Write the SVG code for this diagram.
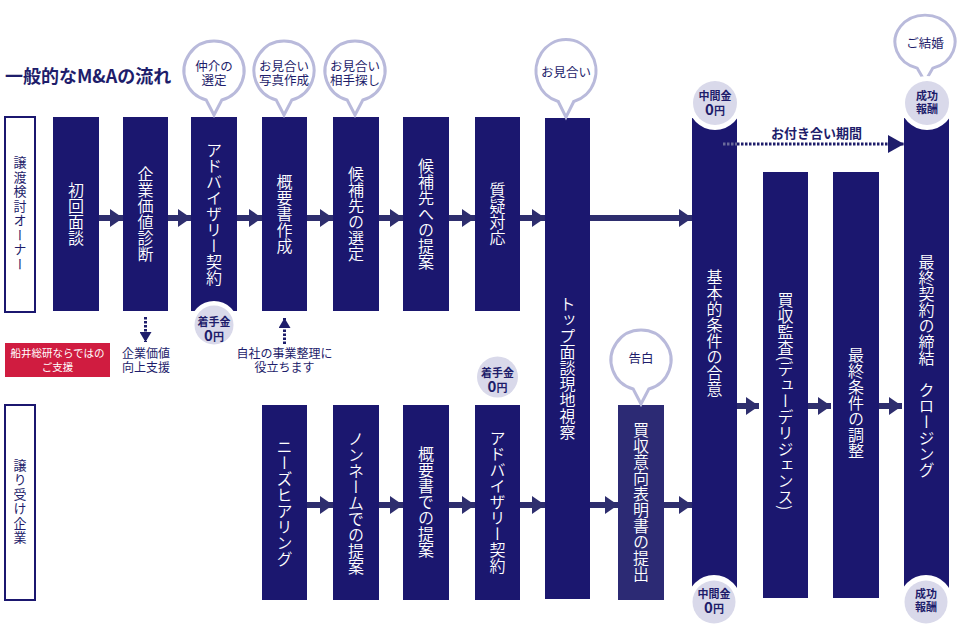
<svg xmlns="http://www.w3.org/2000/svg" width="960" height="635" viewBox="0 0 960 635">
<defs>
<style>
.box{fill:#1b176f}
.box2{fill:#2c2a74}
.vt{font-family:"Noto Sans CJK JP","Noto Sans CJK SC",sans-serif;font-size:16px;font-weight:350;fill:#ffffff;writing-mode:vertical-rl;text-anchor:middle}
.side{fill:#ffffff;stroke:#1b176f;stroke-width:2}
.st{font-family:"Noto Sans CJK JP","Noto Sans CJK SC",sans-serif;font-size:13px;fill:#1e1d6b;writing-mode:vertical-rl;text-anchor:middle;letter-spacing:1.5px}
.bub{fill:#ffffff;stroke:#b9badb;stroke-width:3}
.bt{font-family:"Noto Sans CJK JP","Noto Sans CJK SC",sans-serif;font-size:12.5px;fill:#1e1d6b;text-anchor:middle}
.ring{fill:#ffffff}
.coin{fill:#d9d9ea}
.ct{font-family:"Noto Sans CJK JP","Noto Sans CJK SC",sans-serif;font-size:11px;font-weight:bold;fill:#1e1d6b;text-anchor:middle}
.big{font-size:15px}
.lt{font-family:"Noto Sans CJK JP","Noto Sans CJK SC",sans-serif;font-size:12px;fill:#1e1d6b;text-anchor:middle}
.conn{stroke:#2e2e6e;stroke-width:6;fill:none}
.dot{stroke:#1e1d6b;stroke-width:3;stroke-dasharray:2.5 1.5;fill:none}
</style>
<marker id="ah" markerUnits="userSpaceOnUse" markerWidth="14" markerHeight="18" refX="13" refY="9" orient="auto">
<path d="M0,0 L13,9 L0,18 Z" fill="#2e2e6e"/>
</marker>
<marker id="dh" markerUnits="userSpaceOnUse" markerWidth="16" markerHeight="18" refX="16" refY="9" orient="auto">
<path d="M0,0 L16,9 L0,18 Z" fill="#1e1d6b"/>
</marker>
<marker id="sh" markerUnits="userSpaceOnUse" markerWidth="11" markerHeight="12" refX="10" refY="6" orient="auto">
<path d="M0,0 L10,6 L0,12 Z" fill="#1e1d6b"/>
</marker>
<path id="bubble" d="M7.8,29 A30,30 0 1 0 -7.8,29 L0,44 Z"/>
</defs>

<rect width="960" height="635" fill="#ffffff"/>

<g id="title">
<text x="5" y="83" font-family="'Noto Sans CJK JP','Noto Sans CJK SC',sans-serif" font-size="18" font-weight="bold" fill="#1e1d6b">一般的なM&amp;Aの流れ</text>
</g>

<g id="lane-seller">
<rect class="side" x="5" y="117" width="30" height="195"/>
<text class="st" x="20" y="214">譲渡検討オーナー</text>
</g>
<g id="lane-buyer">
<rect class="side" x="5" y="405" width="30" height="195"/>
<text class="st" x="20" y="502">譲り受け企業</text>
</g>

<g id="connectors">
<line class="conn" x1="99" y1="218" x2="123" y2="218" marker-end="url(#ah)"/>
<line class="conn" x1="168" y1="218" x2="191" y2="218" marker-end="url(#ah)"/>
<line class="conn" x1="237" y1="218" x2="262" y2="218" marker-end="url(#ah)"/>
<line class="conn" x1="307" y1="218" x2="333" y2="218" marker-end="url(#ah)"/>
<line class="conn" x1="379" y1="218" x2="403" y2="218" marker-end="url(#ah)"/>
<line class="conn" x1="449" y1="218" x2="475" y2="218" marker-end="url(#ah)"/>
<line class="conn" x1="520" y1="218" x2="545" y2="218" marker-end="url(#ah)"/>
<line class="conn" x1="590" y1="218" x2="692" y2="218" marker-end="url(#ah)"/>
<line class="conn" x1="307" y1="505" x2="333" y2="505" marker-end="url(#ah)"/>
<line class="conn" x1="379" y1="505" x2="403" y2="505" marker-end="url(#ah)"/>
<line class="conn" x1="449" y1="505" x2="475" y2="505" marker-end="url(#ah)"/>
<line class="conn" x1="520" y1="505" x2="545" y2="505" marker-end="url(#ah)"/>
<line class="conn" x1="590" y1="505" x2="618" y2="505" marker-end="url(#ah)"/>
<line class="conn" x1="664" y1="505" x2="692" y2="505" marker-end="url(#ah)"/>
<line class="conn" x1="737" y1="406" x2="759" y2="406" marker-end="url(#ah)"/>
<line class="conn" x1="808" y1="406" x2="831" y2="406" marker-end="url(#ah)"/>
<line class="conn" x1="879" y1="406" x2="902" y2="406" marker-end="url(#ah)"/>
</g>

<g id="n1"><rect class="box" x="53" y="117" width="46" height="194"/><text class="vt" x="76" y="214">初回面談</text></g>
<g id="n2"><rect class="box" x="123" y="117" width="45" height="194"/><text class="vt" x="145.5" y="214">企業価値診断</text></g>
<g id="n3"><rect class="box" x="191" y="117" width="46" height="194"/><text class="vt" x="214" y="214">アドバイザリー契約</text></g>
<g id="n4"><rect class="box" x="262" y="117" width="45" height="194"/><text class="vt" x="284.5" y="214">概要書作成</text></g>
<g id="n5"><rect class="box" x="333" y="117" width="46" height="194"/><text class="vt" x="356" y="214">候補先の選定</text></g>
<g id="n6"><rect class="box" x="403" y="117" width="46" height="194"/><text class="vt" x="426" y="214">候補先への提案</text></g>
<g id="n7"><rect class="box" x="475" y="117" width="45" height="194"/><text class="vt" x="497.5" y="214">質疑対応</text></g>
<g id="n8"><rect class="box" x="545" y="118" width="45" height="481"/><text class="vt" x="567.5" y="368">トップ面談現地視察</text></g>
<g id="n9"><rect class="box" x="692" y="118" width="45" height="482"/><text class="vt" x="714.5" y="333">基本的条件の合意</text></g>
<g id="n10"><rect class="box" x="763" y="172" width="45" height="426"/><text class="vt" x="785.5" y="401">買収監査(デューデリジェンス)</text></g>
<g id="n11"><rect class="box" x="833" y="172" width="46" height="426"/><text class="vt" x="856" y="403">最終条件の調整</text></g>
<g id="n12"><rect class="box" x="904" y="118" width="45" height="482"/><text class="vt" x="926.5" y="366">最終契約の締結　クロージング</text></g>
<g id="b1"><rect class="box" x="262" y="405" width="45" height="195"/><text class="vt" x="284.5" y="503">ニーズヒアリング</text></g>
<g id="b2"><rect class="box" x="333" y="405" width="46" height="195"/><text class="vt" x="356" y="503">ノンネームでの提案</text></g>
<g id="b3"><rect class="box" x="403" y="405" width="46" height="195"/><text class="vt" x="426" y="502">概要書での提案</text></g>
<g id="b4"><rect class="box" x="475" y="405" width="45" height="195"/><text class="vt" x="497.5" y="502">アドバイザリー契約</text></g>
<g id="b5"><rect class="box2" x="618" y="405" width="46" height="195"/><text class="vt" x="641" y="502">買収意向表明書の提出</text></g>

<g id="period">
<line x1="723" y1="144" x2="737" y2="144" stroke="#6a6a9a" stroke-width="3" stroke-dasharray="2.5 1.5"/>
<line class="dot" x1="737" y1="144" x2="904" y2="144" marker-end="url(#dh)"/>
<text x="816.5" y="138" font-family="'Noto Sans CJK JP','Noto Sans CJK SC',sans-serif" font-size="13" font-weight="bold" fill="#1e1d6b" text-anchor="middle">お付き合い期間</text>
</g>

<g id="bubble-1"><use href="#bubble" class="bub" transform="translate(214,71)"/><text class="bt"><tspan x="214" y="71">仲介の</tspan><tspan x="214" y="85">選定</tspan></text></g>
<g id="bubble-2"><use href="#bubble" class="bub" transform="translate(284,71)"/><text class="bt"><tspan x="284" y="71">お見合い</tspan><tspan x="284" y="85">写真作成</tspan></text></g>
<g id="bubble-3"><use href="#bubble" class="bub" transform="translate(355,71)"/><text class="bt"><tspan x="355" y="71">お見合い</tspan><tspan x="355" y="85">相手探し</tspan></text></g>
<g id="bubble-4"><use href="#bubble" class="bub" transform="translate(566,71) scale(1,1.05)"/><text class="bt" x="566" y="77">お見合い</text></g>
<g id="bubble-5"><use href="#bubble" class="bub" transform="translate(641,360)"/><text class="bt" x="641" y="363">告白</text></g>
<g id="bubble-6"><use href="#bubble" class="bub" transform="translate(925,42) scale(1,0.9)"/><text class="bt" x="925" y="48">ご結婚</text></g>

<g id="fee-1"><circle class="ring" cx="214" cy="325" r="24"/><circle class="coin" cx="214" cy="325" r="19.5"/><text class="ct"><tspan x="214" y="326">着手金</tspan><tspan x="214" y="341"><tspan class="big">0</tspan>円</tspan></text></g>
<g id="fee-2"><circle class="coin" cx="497.5" cy="377" r="20.5"/><text class="ct"><tspan x="497.5" y="377">着手金</tspan><tspan x="497.5" y="391.5"><tspan class="big">0</tspan>円</tspan></text></g>
<g id="fee-3"><circle class="ring" cx="715" cy="103" r="27"/><circle class="coin" cx="715" cy="103" r="22"/><text class="ct"><tspan x="715" y="100">中間金</tspan><tspan x="715" y="115"><tspan class="big">0</tspan>円</tspan></text></g>
<g id="fee-4"><circle class="ring" cx="714" cy="602" r="27"/><circle class="coin" cx="714" cy="602" r="21.5"/><text class="ct"><tspan x="714" y="598">中間金</tspan><tspan x="714" y="613"><tspan class="big">0</tspan>円</tspan></text></g>
<g id="fee-5"><circle class="ring" cx="927" cy="103" r="27"/><circle class="coin" cx="927" cy="103" r="22"/><text class="ct" font-size="12"><tspan x="927" y="100">成功</tspan><tspan x="927" y="113">報酬</tspan></text></g>
<g id="fee-6"><circle class="ring" cx="926" cy="602" r="27"/><circle class="coin" cx="926" cy="602" r="21.5"/><text class="ct" font-size="12"><tspan x="926" y="598">成功</tspan><tspan x="926" y="611">報酬</tspan></text></g>

<g id="funai">
<rect x="5" y="343" width="105" height="34" fill="#d01c40"/>
<text font-family="'Noto Sans CJK JP','Noto Sans CJK SC',sans-serif" font-size="10.5" fill="#ffffff" text-anchor="middle"><tspan x="57.5" y="357">船井総研ならではの</tspan><tspan x="57.5" y="371">ご支援</tspan></text>
</g>

<g id="support-1">
<line class="dot" x1="145.5" y1="317" x2="145.5" y2="342" marker-end="url(#sh)"/>
<text class="lt"><tspan x="146" y="358">企業価値</tspan><tspan x="146" y="372">向上支援</tspan></text>
</g>
<g id="support-2">
<line class="dot" x1="284.5" y1="344" x2="284.5" y2="318" marker-end="url(#sh)"/>
<text class="lt"><tspan x="284.5" y="358">自社の事業整理に</tspan><tspan x="284.5" y="372">役立ちます</tspan></text>
</g>
</svg>
